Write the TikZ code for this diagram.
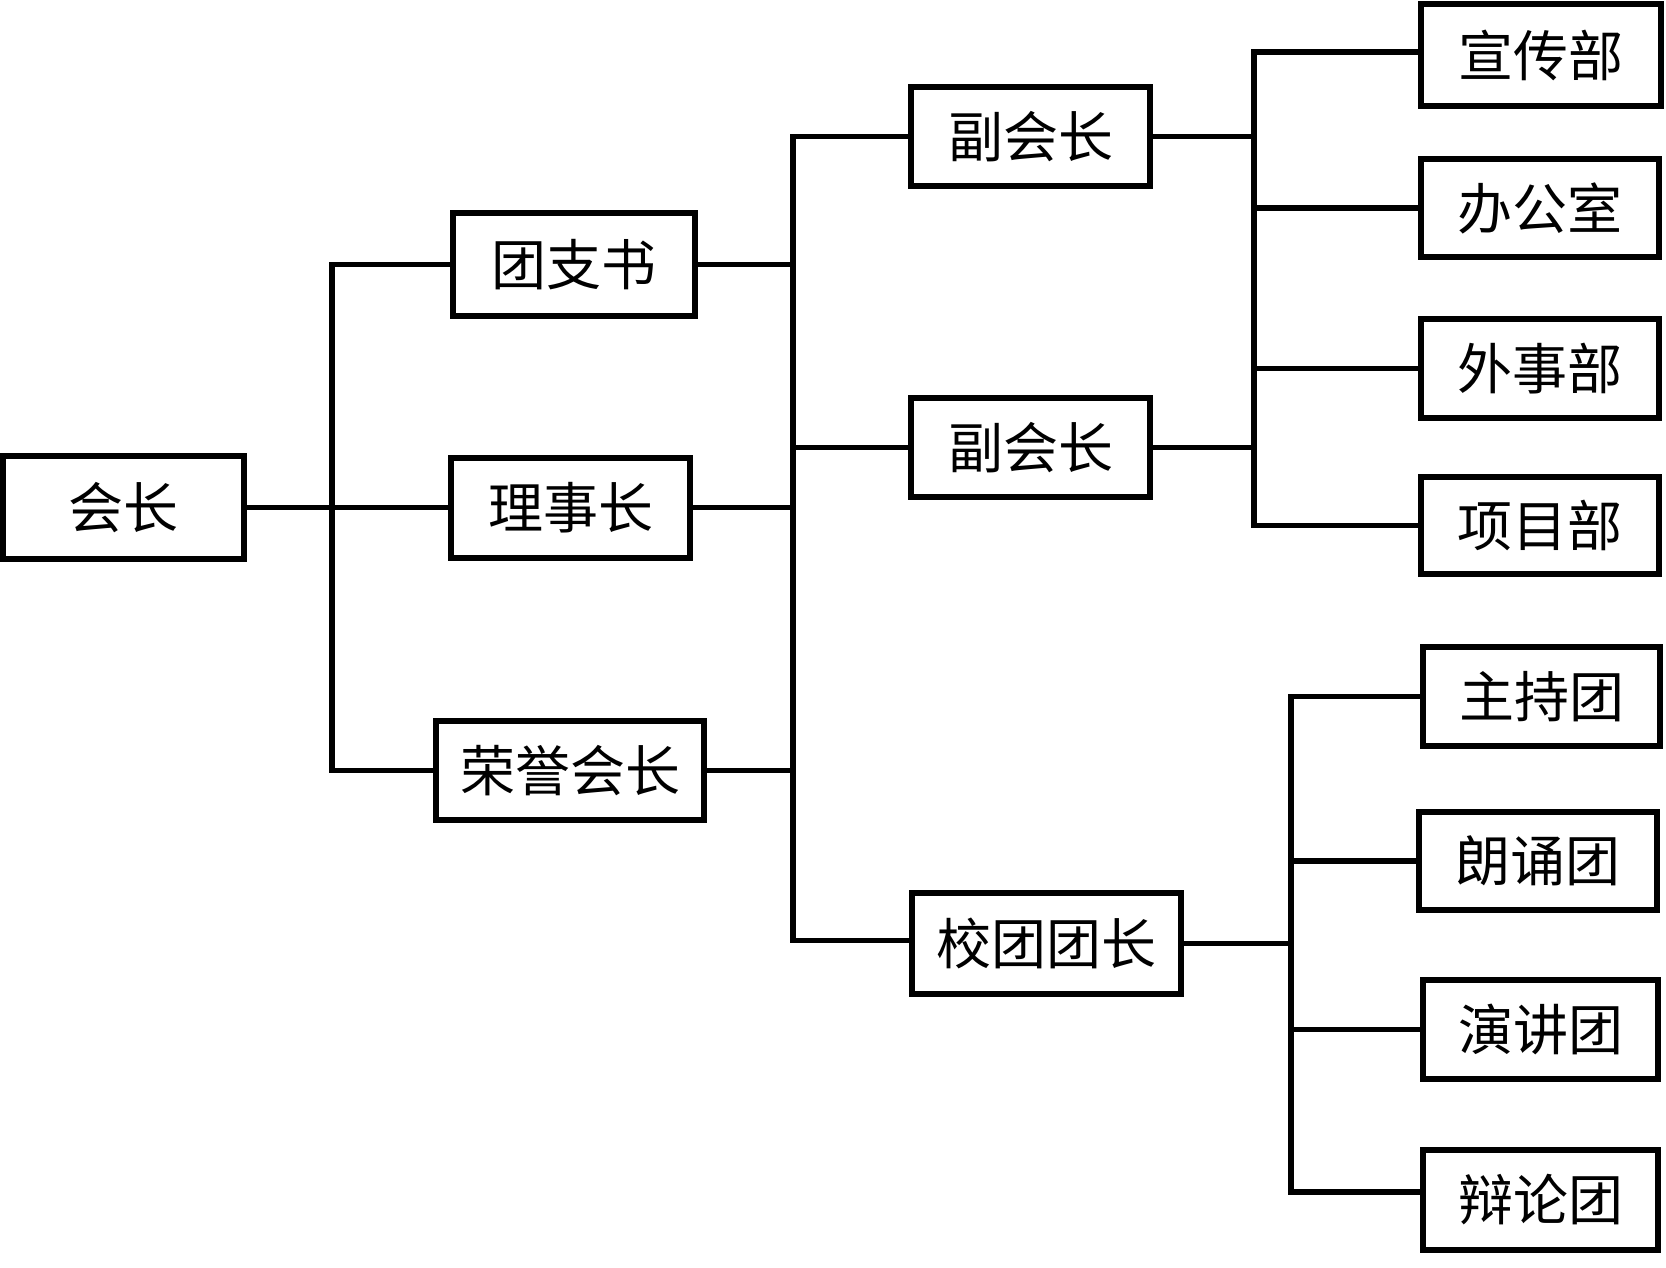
\documentclass[tikz,border=0pt]{standalone}
\usepackage{fontspec}
\newfontfamily\cjk{Noto Sans CJK SC}
\begin{document}
\begin{tikzpicture}[x=1pt,y=-1pt,
  box/.style={draw=black, line width=6pt, fill=white, inner sep=0pt, rectangle,
    font=\cjk\fontsize{55}{60}\selectfont},
  conn/.style={draw=black, line width=5.5pt}]
\useasboundingbox[fill=white] (0,0) rectangle (1666,1268);
% level 0
\node[box, minimum width=241pt, minimum height=103pt] (hz) at (123.5,507.5) {会长};
% level 1
\node[box, minimum width=242pt, minimum height=103pt] (tzs) at (574,264.5) {团支书};
\node[box, minimum width=239pt, minimum height=100pt] (lsz) at (570.5,507.5) {理事长};
\node[box, minimum width=268pt, minimum height=99pt] (ryhz) at (570,770.5) {荣誉会长};
% level 2
\node[box, minimum width=239pt, minimum height=99pt] (fhz1) at (1030.5,136.5) {副会长};
\node[box, minimum width=239pt, minimum height=99pt] (fhz2) at (1030.5,447.5) {副会长};
\node[box, minimum width=269pt, minimum height=101pt] (xttz) at (1046.5,943.5) {校团团长};
% level 3
\node[box, minimum width=240pt, minimum height=102pt] (xcb) at (1541,55) {宣传部};
\node[box, minimum width=238pt, minimum height=98pt] (bgs) at (1540,208) {办公室};
\node[box, minimum width=238pt, minimum height=99pt] (wsb) at (1540,368.5) {外事部};
\node[box, minimum width=238pt, minimum height=97pt] (xmb) at (1540,525.5) {项目部};
\node[box, minimum width=237pt, minimum height=99pt] (zct) at (1541.5,696.5) {主持团};
\node[box, minimum width=238pt, minimum height=98pt] (lst) at (1538,861) {朗诵团};
\node[box, minimum width=235pt, minimum height=99pt] (yjt) at (1540.5,1029.5) {演讲团};
\node[box, minimum width=235pt, minimum height=100pt] (blt) at (1540.5,1200) {辩论团};
% trunk positions
\coordinate (j1) at (332,0);
\coordinate (j2) at (793,0);
\coordinate (j3) at (1254,0);
\coordinate (j4) at (1291,0);
\coordinate (xcbin) at ([yshift=3pt]xcb.west);
\coordinate (bltin) at ([yshift=8pt]blt.west);
\coordinate (xttzin) at ([yshift=3pt]xttz.west);
% trunk 1
\draw[conn] (tzs.west) -| (j1 |- ryhz.west) -- (ryhz.west);
\draw[conn] (hz.east) -- (lsz.west);
% trunk 2
\draw[conn] (fhz1.west) -| (j2 |- xttzin) -- (xttzin);
\draw[conn] (tzs.east) -- (j2 |- tzs.east);
\draw[conn] (lsz.east) -- (j2 |- lsz.east);
\draw[conn] (ryhz.east) -- (j2 |- ryhz.east);
\draw[conn] (j2 |- fhz2.west) -- (fhz2.west);
% trunk 3
\draw[conn] (xcbin) -| (j3 |- xmb.west) -- (xmb.west);
\draw[conn] (fhz1.east) -- (j3 |- fhz1.east);
\draw[conn] (fhz2.east) -- (j3 |- fhz2.east);
\draw[conn] (j3 |- bgs.west) -- (bgs.west);
\draw[conn] (j3 |- wsb.west) -- (wsb.west);
% trunk 4
\draw[conn] (zct.west) -| (j4 |- bltin) -- (bltin);
\draw[conn] (xttz.east) -- (j4 |- xttz.east);
\draw[conn] (j4 |- lst.west) -- (lst.west);
\draw[conn] (j4 |- yjt.west) -- (yjt.west);
\end{tikzpicture}
\end{document}
